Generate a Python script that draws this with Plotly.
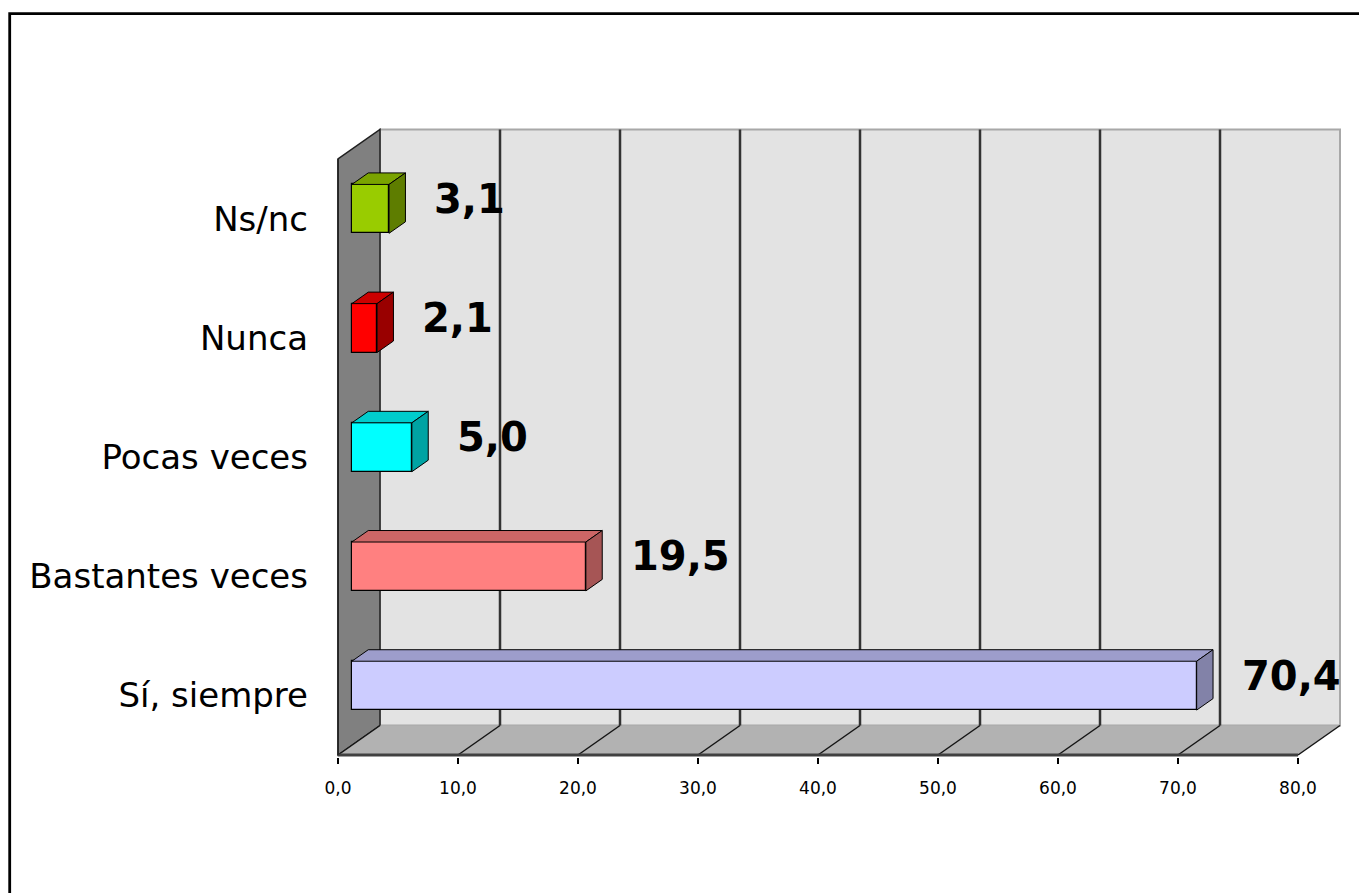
import plotly.graph_objects as go

# ---------------- data ----------------
categories = ["Sí, siempre", "Bastantes veces", "Pocas veces", "Nunca", "Ns/nc"]
values = [70.4, 19.5, 5.0, 2.1, 3.1]
x_tickvals = [0, 10, 20, 30, 40, 50, 60, 70, 80]
x_ticktext = ["0,0", "10,0", "20,0", "30,0", "40,0", "50,0", "60,0", "70,0", "80,0"]
front_colors = ["#CCCCFF", "#FF8080", "#00FFFF", "#FF0000", "#99CC00"]
top_colors = ["#9D9DCB", "#CC6666", "#00CCCC", "#CC0000", "#7AA300"]
side_colors = ["#8282A8", "#A65555", "#00A3A3", "#990000", "#5E7D00"]

# ---------------- geometry (pixel mapping) ----------------
W, H = 1367, 893
OFF = 8              # page body margin offset
PX_X = 12.0          # px per value unit
PX_Y = 119.2         # px per category band
X0PX = 338 - OFF     # pixel of value 0 (front)
YBPX = 755 - OFF     # pixel of front floor edge
ML, MR = X0PX - 3, 15
MB = H - (YBPX + 2)
MT = 117
x0 = -(X0PX - ML) / PX_X
x1 = x0 + (W - ML - MR) / PX_X
y0 = -0.5 - (H - MB - YBPX) / PX_Y
y1 = y0 + (H - MT - MB) / PX_Y
DX = 42 / PX_X       # depth offset in value units
DY = 29.5 / PX_Y     # depth offset in band units
XMAX = 80
N = len(categories)
BOT, TOP = -0.5, N - 0.5
D0, DD = 0.33, 0.39  # bar start depth and bar depth (fractions)
BW = 0.41            # bar thickness

fig = go.Figure()

shapes = []
# back wall
shapes.append(dict(type="rect", xref="x", yref="y", x0=DX, x1=XMAX + DX, y0=BOT + DY, y1=TOP + DY,
                   fillcolor="#E3E3E3", line=dict(color="#A8A8A8", width=2), layer="below"))
# left wall
shapes.append(dict(type="path", xref="x", yref="y",
                   path=f"M 0 {BOT} L {DX} {BOT+DY} L {DX} {TOP+DY} L 0 {TOP} Z",
                   fillcolor="#808080", line=dict(color="#202020", width=1.5), layer="below"))
# floor
shapes.append(dict(type="path", xref="x", yref="y",
                   path=f"M 0 {BOT} L {XMAX} {BOT} L {XMAX+DX} {BOT+DY} L {DX} {BOT+DY} Z",
                   fillcolor="#B2B2B2", line=dict(color="#B2B2B2", width=0), layer="below"))
# gridlines on back wall and floor
for v in x_tickvals:
    if 0 < v < XMAX:
        shapes.append(dict(type="line", xref="x", yref="y", x0=v + DX, x1=v + DX, y0=BOT + DY, y1=TOP + DY,
                           line=dict(color="#333333", width=2.5), layer="below"))
    shapes.append(dict(type="line", xref="x", yref="y", x0=v, x1=v + DX, y0=BOT, y1=BOT + DY,
                       line=dict(color="#151515", width=1.5), layer="below"))
# front bottom edge of floor
shapes.append(dict(type="line", xref="x", yref="y", x0=0, x1=XMAX, y0=BOT, y1=BOT,
                   line=dict(color="#404040", width=3), layer="below"))
# left wall front edge
shapes.append(dict(type="line", xref="x", yref="y", x0=0, x1=0, y0=BOT, y1=TOP,
                   line=dict(color="#202020", width=1.5), layer="below"))

# outer chart border (top/left visible)
pw = W - ML - MR
ph = H - MT - MB
bx, by = 9.7 - OFF, 13.7 - OFF
shapes.append(dict(type="rect", xref="paper", yref="paper",
                   x0=(bx - ML) / pw, x1=(W + 30 - ML) / pw,
                   y0=-(MB + 60) / ph, y1=(H - MB - by) / ph,
                   line=dict(color="black", width=2.8), fillcolor="rgba(0,0,0,0)", layer="below"))

# bars
base = D0 * DX
for i, (cat, v) in enumerate(zip(categories, values)):
    yc = i + D0 * DY
    yb, yt = yc - BW / 2, yc + BW / 2
    ddx, ddy = DD * DX, DD * DY
    # top face
    fig.add_trace(go.Scatter(
        x=[base, base + v, base + v + ddx, base + ddx, base],
        y=[yt, yt, yt + ddy, yt + ddy, yt],
        mode="lines", fill="toself", fillcolor=top_colors[i],
        line=dict(color="black", width=1), hoverinfo="skip", showlegend=False))
    # side face
    fig.add_trace(go.Scatter(
        x=[base + v, base + v + ddx, base + v + ddx, base + v, base + v],
        y=[yb, yb + ddy, yt + ddy, yt, yb],
        mode="lines", fill="toself", fillcolor=side_colors[i],
        line=dict(color="black", width=1), hoverinfo="skip", showlegend=False))
    # front face
    fig.add_trace(go.Bar(
        x=[v], y=[yc], base=[base], orientation="h", width=BW,
        marker=dict(color=front_colors[i], line=dict(color="black", width=1.2)),
        showlegend=False, hoverinfo="skip"))
    fig.add_annotation(x=base + v, y=yc, xref="x", yref="y",
                       text="<b>" + f"{v:.1f}".replace(".", ",") + "</b>",
                       showarrow=False, xanchor="left", yanchor="middle",
                       xshift=43, yshift=10,
                       font=dict(family="DejaVu Sans", size=40, color="black"))

pos = (X0PX - ML) / pw
fig.update_layout(
    width=W, height=H,
    margin=dict(l=ML, r=MR, t=MT, b=MB, autoexpand=False),
    paper_bgcolor="white", plot_bgcolor="white",
    shapes=shapes, bargap=0, barmode="overlay",
    xaxis=dict(range=[x0, x1], tickvals=x_tickvals, ticktext=x_ticktext,
               ticks="outside", ticklen=6, tickwidth=1.5, tickcolor="black",
               showgrid=False, zeroline=False, showline=False,
               ticklabelstandoff=10,
               tickfont=dict(family="DejaVu Sans", size=17, color="black")),
    yaxis=dict(range=[y0, y1], tickvals=list(range(N)), ticktext=categories,
               ticks="", showgrid=False, zeroline=False, showline=False,
               anchor="free", position=pos, ticklabelstandoff=30,
               tickfont=dict(family="DejaVu Sans", size=34, color="black")),
    yaxis2=dict(range=[y0, y1], overlaying="y", anchor="free", position=pos, side="left",
                tickvals=[k - 0.5 for k in range(N + 1)], showticklabels=False,
                ticks="outside", ticklen=10, tickwidth=1.5, tickcolor="black",
                showgrid=False, zeroline=False, showline=False),
)

fig.write_html("out.html")
